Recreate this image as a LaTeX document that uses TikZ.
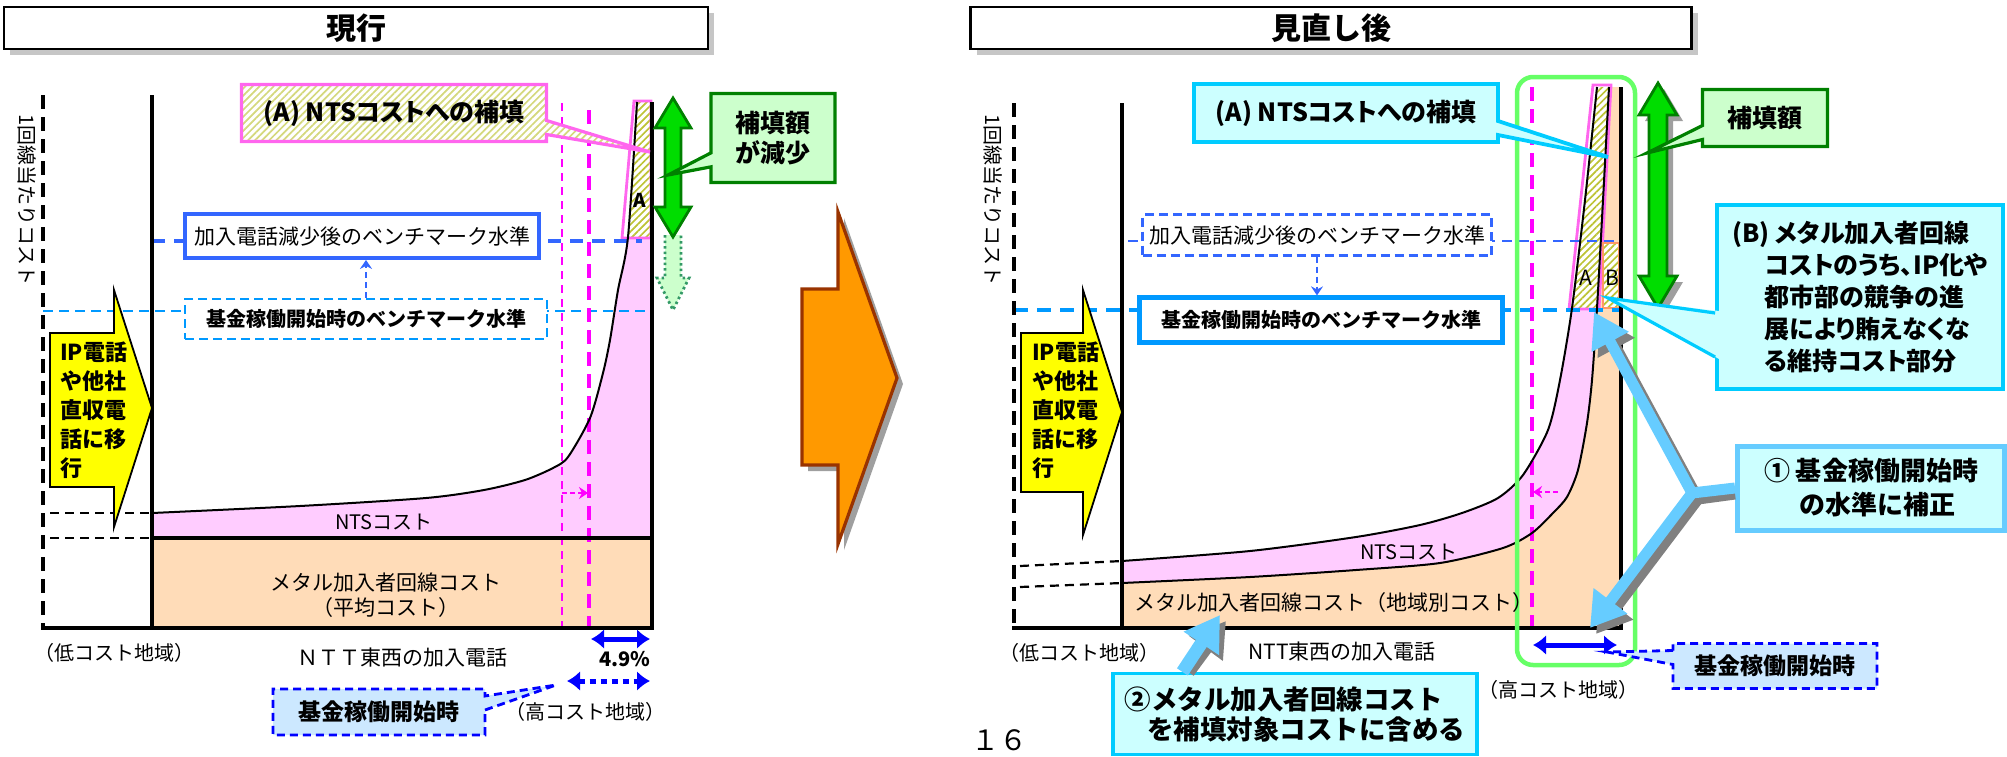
\documentclass[tikz,border=0pt]{standalone}
\usepackage{fontspec}
\setmainfont{Noto Sans CJK JP}
\newfontfamily\pfont{Noto Sans CJK JP}[RawFeature=+palt]
\usepackage{tikz}
\usetikzlibrary{arrows.meta,positioning,calc,shapes.callouts,patterns.meta,shadows}

\newcommand{\jfont}[2]{\fontsize{#1}{#2}\selectfont}

\definecolor{ntspink}{HTML}{FFCCFF}
\definecolor{metalbg}{HTML}{FFDCB8}
\definecolor{magline}{HTML}{FF00FF}
\definecolor{pinkbd}{HTML}{FF66EE}
\definecolor{bluelvl}{HTML}{3366FF}
\definecolor{skylvl}{HTML}{0099FF}
\definecolor{cyanbd}{HTML}{00CCFF}
\definecolor{cyanbg}{HTML}{CCFFFF}
\definecolor{grnbd}{HTML}{008000}
\definecolor{grnbg}{HTML}{CCFFCC}
\definecolor{grnarr}{HTML}{00DD00}
\definecolor{grnframe}{HTML}{66FF66}
\definecolor{hatch}{HTML}{BDC335}
\definecolor{orgfill}{HTML}{FF9900}
\definecolor{orgbd}{HTML}{993300}
\definecolor{arrblue}{HTML}{66CCFF}
\definecolor{paleblue}{HTML}{CCE8FF}
\definecolor{ipyellow}{HTML}{FFFF00}
\definecolor{bboxbd}{HTML}{FF9966}
\definecolor{dotgrn}{HTML}{339966}

\begin{document}
\begin{tikzpicture}[x=1pt,y=-1pt,>=latex,
    titlebar/.style={draw,line width=2.8pt,fill=white,minimum height=42pt,
      general shadow={fill=gray!45,shadow xshift=6pt,shadow yshift=-6pt},
      font=\jfont{30pt}{30pt}\bfseries},
    lvlbox/.style={fill=white,inner sep=0pt,font=\jfont{21pt}{21pt}},
    callbox/.style={rectangle callout,callout pointer width=14pt,inner sep=0pt,
      font=\pfont\jfont{25pt}{25pt}\bfseries},
    hatched/.style={preaction={fill=white},
      pattern={Lines[angle=45,distance=5pt,line width=1.7pt]},pattern color=hatch},
    yaxis/.style={line width=4.5pt,dash pattern=on 14pt off 8pt},
    guide/.style={line width=2.2pt,dash pattern=on 9pt off 6pt},
    costline/.style={line width=2pt,smooth,tension=0.45},
    ipshape/.style={fill=ipyellow,draw,line width=1.8pt,line join=miter},
    ipnote/.style={inner sep=0pt,align=left,font=\jfont{22pt}{29pt}\bfseries},
    txt/.style={inner sep=0pt,font=\jfont{20pt}{24pt}},
    fatgreen/.style={fill=grnarr,draw=grnbd,line width=2.8pt,line join=miter},
    fatblue/.style={draw=arrblue,line width=11pt,-{Triangle[length=34pt,width=40pt]}},
    fatshade/.style={draw=gray,line width=11pt,-{Triangle[length=34pt,width=40pt]}},
    zonearrow/.style={blue,line width=5pt,{Latex[length=13pt,width=20pt]}-{Latex[length=13pt,width=20pt]}},
    smallarrow/.style={-{Stealth[length=9pt,width=12pt,inset=3pt]}},
  ]
  \useasboundingbox (0,0) rectangle (2007,756);
  % title bars
  \node[titlebar,minimum width=704pt] (curT) at (356,28) {現行};
  \node[titlebar,minimum width=721pt] (newT) at (1331,28) {見直し後};

  % ---------- current (left) ----------
  % cost areas
  \fill[metalbg] (152,538) rectangle (652,628);
  \fill[ntspink] plot[smooth,tension=0.45] coordinates {(152,513) (300,506) (426,498) (484,490) (525,480) (553,468) (568,457) (590,418) (603,373) (610,340) (618,290) (628,237)} -- (652,237) -- (652,538) -- (152,538) -- cycle;
  \path[hatched] (628,237) -- (637,102) -- (651,102) -- (651,237) -- cycle;
  \draw[pinkbd,line width=2.8pt] (622,238) -- (634,101) -- (651,101) -- (651,238) -- cycle;
  \node[inner sep=0pt,font=\jfont{19pt}{19pt}\bfseries] (aL) at (640,200) {A};
  % benchmark levels
  \draw[bluelvl,line width=3.8pt,dash pattern=on 13pt off 9pt] (152,241) -- (642,241);
  \draw[skylvl,line width=2.8pt,dash pattern=on 10pt off 6pt] (43,311) -- (652,311);
  % high-cost borders
  \draw[magline,line width=2pt,dash pattern=on 8pt off 6pt] (562,103) -- (562,628);
  \draw[magline,line width=3.4pt,dash pattern=on 14pt off 8pt] (589,110) -- (589,628);
  \draw[magline,line width=1.8pt,dash pattern=on 5pt off 3pt,smallarrow] (562,493) -- (588,493);
  % curve and axes
  \draw[costline] plot coordinates {(152,513) (300,506) (426,498) (484,490) (525,480) (553,468) (568,457) (590,418) (603,373) (610,340) (618,290) (628,237) (637,102)};
  \draw[line width=3.5pt] (152,538) -- (652,538);
  \draw[line width=3.5pt] (152,95) -- (152,628);
  \draw[line width=4pt] (652,102) -- (652,630);
  \draw[yaxis] (43,95) -- (43,628);
  \draw[line width=4.5pt] (41,628) -- (654,628);
  \draw[guide] (50,513) -- (152,513);
  \draw[guide] (50,538) -- (152,538);
  \node[txt,rotate=-90] (yL) at (27,200) {1回線当たりコスト};
  % benchmark boxes
  \node[lvlbox,draw=bluelvl,line width=3.8pt,minimum width=354pt,minimum height=44pt] (afterL) at (362,236) {加入電話減少後のベンチマーク水準};
  \node[lvlbox,draw=skylvl,line width=2.8pt,dash pattern=on 9pt off 5pt,minimum width=362pt,minimum height=40pt,font=\jfont{20pt}{20pt}\bfseries] (startL) at (366,319) {基金稼働開始時のベンチマーク水準};
  \draw[bluelvl,line width=1.8pt,dash pattern=on 6pt off 4pt,smallarrow] (startL.north) -- (startL.north |- afterL.south);
  % compensation amount
  \draw[dotgrn,fill=grnbg,line width=2.8pt,dash pattern=on 2.5pt off 3pt] (665,235) -- (665,278) -- (657,278) -- (673,310) -- (689,278) -- (681,278) -- (681,235);
  \draw[fatgreen] (673,98) -- (691,128) -- (681,128) -- (681,207) -- (691,207) -- (673,237) -- (655,207) -- (665,207) -- (665,128) -- (655,128) -- cycle;
  \node[callbox,callout absolute pointer={(650,152)},draw=pinkbd,line width=3.2pt,hatched,pattern color=hatch!65,minimum width=305pt,minimum height=57pt] (ntsAL) at (394,113) {(A) NTSコストへの補填};
  \node[callbox,callout absolute pointer={(668,175)},fill=grnbg,draw=grnbd,line width=3.2pt,align=center,font=\jfont{25pt}{30pt}\bfseries,minimum width=124pt,minimum height=89pt] (fillL) at (773,138) {補填額\\が減少};
  % shift to IP
  \draw[ipshape] (50,333) -- (114,333) -- (114,290) -- (152,408) -- (114,527) -- (114,487) -- (50,487) -- cycle;
  \node[ipnote,anchor=west] (ipL) at (60,410) {IP電話\\や他社\\直収電\\話に移\\行};
  % labels
  \node[txt] (ntsLblL) at (384,522) {NTSコスト};
  \node[txt,align=center,font=\jfont{21pt}{25pt}] (metalL) at (386,595) {メタル加入者回線コスト\\（平均コスト）};
  \node[txt] (lowL) at (114,653) {（低コスト地域）};
  \node[txt,font=\jfont{21pt}{21pt}] (nttL) at (402,658) {ＮＴＴ東西の加入電話};
  \draw[zonearrow] (591,639) -- (650,639);
  \node[txt,font=\jfont{20pt}{20pt}\bfseries] (pctL) at (625,659) {4.9\%};
  \draw[zonearrow,dash pattern=on 6pt off 5pt] (567,681) -- (650,681);
  \node[txt] (highL) at (585,712) {（高コスト地域）};
  \node[callbox,callout absolute pointer={(556,685)},fill=paleblue,draw=blue,line width=2.8pt,dash pattern=on 8pt off 5pt,font=\jfont{23pt}{23pt}\bfseries,minimum width=212pt,minimum height=46pt] (startTL) at (379,712) {基金稼働開始時};

  % transition arrow
  \fill[gray!75,shift={(6,6)}] (802,289) -- (838,289) -- (838,212) -- (897,378) -- (838,544) -- (838,465) -- (802,465) -- cycle;
  \draw[fill=orgfill,draw=orgbd,line width=3.2pt] (802,289) -- (838,289) -- (838,212) -- (897,378) -- (838,544) -- (838,465) -- (802,465) -- cycle;

  % ---------- revised (right) ----------
  % cost areas
  \fill[metalbg] plot[smooth,tension=0.45] coordinates {(1122,583) (1250,577) (1356,570) (1440,563) (1503,548) (1532,533) (1553,513) (1567,497) (1578,470) (1587,423) (1592,380) (1597,308) (1603,200) (1609,87)} -- (1621,87) -- (1621,628) -- (1122,628) -- cycle;
  \fill[ntspink] plot[smooth,tension=0.45] coordinates {(1122,561) (1250,551) (1356,537) (1420,525) (1462,513) (1498,498) (1523,475) (1548,430) (1560,380) (1572,308) (1585,200) (1597,87)} -- plot[smooth,tension=0.45] coordinates {(1609,87) (1603,200) (1597,308) (1592,380) (1587,423) (1578,470) (1567,497) (1553,513) (1532,533) (1503,548) (1440,563) (1356,570) (1250,577) (1122,583)} -- cycle;
  \path[hatched] (1572,308) -- (1585,200) -- (1597,87) -- (1609,87) -- (1603,200) -- (1597,308) -- cycle;
  \draw[pinkbd,line width=2.8pt] (1569,309) -- (1593,85) -- (1611,85) -- (1599,309) -- cycle;
  \draw[bboxbd,line width=2.8pt,hatched] (1603,243) rectangle (1619,308);
  % benchmark levels
  \draw[bluelvl,line width=2.3pt,dash pattern=on 10pt off 7pt] (1128,241) -- (1620,241);
  \draw[skylvl,line width=4.2pt,dash pattern=on 14pt off 9pt] (1014,310) -- (1620,310);
  % high-cost border
  \draw[magline,line width=3.4pt,dash pattern=on 14pt off 8pt] (1532,87) -- (1532,628);
  \draw[magline,line width=1.8pt,dash pattern=on 5pt off 3pt,smallarrow] (1558,492) -- (1533,492);
  % curves and axes
  \draw[costline] plot coordinates {(1122,561) (1250,551) (1356,537) (1420,525) (1462,513) (1498,498) (1523,475) (1548,430) (1560,380) (1572,308) (1585,200) (1597,87)};
  \draw[costline] plot coordinates {(1122,583) (1250,577) (1356,570) (1440,563) (1503,548) (1532,533) (1553,513) (1567,497) (1578,470) (1587,423) (1592,380) (1597,308) (1603,200) (1609,87)};
  \node[inner sep=0pt,font=\jfont{21pt}{21pt}] (aR) at (1586,278) {A};
  \node[inner sep=0pt,font=\jfont{21pt}{21pt}] (bR) at (1612,278) {B};
  \draw[line width=3.5pt] (1122,103) -- (1122,628);
  \draw[line width=4pt] (1621,87) -- (1621,630);
  \draw[yaxis] (1014,103) -- (1014,628);
  \draw[line width=4.5pt] (1012,628) -- (1623,628);
  \draw[guide] (1020,566) -- (1122,561);
  \draw[guide] (1020,587) -- (1122,583);
  \draw[grnframe,line width=4.5pt,rounded corners=16pt] (1517,77) rectangle (1635,665);
  \node[txt,rotate=-90] (yR) at (993,200) {1回線当たりコスト};
  % benchmark boxes
  \node[lvlbox,draw=bluelvl,line width=2.3pt,dash pattern=on 9pt off 5pt,minimum width=349pt,minimum height=41pt] (afterR) at (1317,235) {加入電話減少後のベンチマーク水準};
  \node[lvlbox,draw=skylvl,line width=4.2pt,minimum width=363pt,minimum height=45pt,font=\jfont{20pt}{20pt}\bfseries] (startR) at (1321,320) {基金稼働開始時のベンチマーク水準};
  \draw[bluelvl,line width=1.8pt,dash pattern=on 6pt off 4pt,smallarrow] (afterR.south) -- (afterR.south |- startR.north);
  % compensation amount
  \fill[gray!75,shift={(6,6)}] (1658,83) -- (1677,115) -- (1667,115) -- (1667,276) -- (1677,276) -- (1658,308) -- (1639,276) -- (1649,276) -- (1649,115) -- (1639,115) -- cycle;
  \draw[fatgreen] (1658,83) -- (1677,115) -- (1667,115) -- (1667,276) -- (1677,276) -- (1658,308) -- (1639,276) -- (1649,276) -- (1649,115) -- (1639,115) -- cycle;
  \node[callbox,callout absolute pointer={(1608,157)},fill=cyanbg,draw=cyanbd,line width=3.8pt,minimum width=304pt,minimum height=58pt] (ntsAR) at (1346,113) {(A) NTSコストへの補填};
  \node[callbox,callout absolute pointer={(1647,153)},fill=grnbg,draw=grnbd,line width=3.2pt,font=\jfont{25pt}{25pt}\bfseries,minimum width=125pt,minimum height=57pt] (fillR) at (1765,118) {補填額};
  % part B note
  \node[fill=cyanbg,draw=cyanbd,line width=3.8pt,align=left,inner sep=0pt,minimum width=286pt,minimum height=184pt,font=\pfont\jfont{25pt}{32pt}\bfseries] (partB) at (1860,297) {(B) メタル加入者回線\\\hspace*{1.3em}コストのうち、IP化や\\\hspace*{1.3em}都市部の競争の進\\\hspace*{1.3em}展により賄えなくな\\\hspace*{1.3em}る維持コスト部分};
  \coordinate (bTip) at (1608,298);
  \fill[cyanbg] ($(partB.west |- 0,311)+(4,0)$) -- (bTip) -- ($(partB.west |- 0,359)+(4,0)$) -- cycle;
  \draw[cyanbd,line width=3.2pt] (partB.west |- 0,313) -- (bTip) -- (partB.west |- 0,357);
  % correction note
  \node[fill=cyanbg,draw=arrblue,line width=5pt,align=left,inner sep=0pt,minimum width=267pt,minimum height=84pt,font=\jfont{26pt}{34pt}\bfseries] (corr) at (1871,488) {① 基金稼働開始時\\\hspace*{1.35em}の水準に補正};
  \coordinate (jn) at (1692,493);
  \coordinate (tipA) at (1594,312);
  \coordinate (tipB) at (1590,628);
  \draw[fatshade] ($(corr.west)+(0,6)$) -- ($(jn)+(6,6)$) -- ($(tipA)+(6,6)$);
  \draw[fatshade] ($(jn)+(6,6)$) -- ($(tipB)+(6,6)$);
  \draw[fatblue,line join=round] (corr.west) -- (jn) -- (tipA);
  \draw[fatblue] (jn) -- (tipB);
  % labels
  \node[txt] (ntsLblR) at (1409,552) {NTSコスト};
  \node[txt,font=\jfont{21pt}{21pt}] (metalR) at (1334,603) {メタル加入者回線コスト（地域別コスト）};
  \node[txt] (lowR) at (1079,653) {（低コスト地域）};
  \node[txt,font=\jfont{21pt}{21pt}] (nttR) at (1342,652) {NTT東西の加入電話};
  \draw[zonearrow] (1533,645) -- (1617,645);
  \node[txt] (highR) at (1558,690) {（高コスト地域）};
  \node[callbox,callout absolute pointer={(1607,652)},fill=paleblue,draw=blue,line width=2.8pt,dash pattern=on 8pt off 5pt,font=\jfont{23pt}{23pt}\bfseries,minimum width=204pt,minimum height=45pt] (startTR) at (1775,666) {基金稼働開始時};
  % shift to IP
  \draw[ipshape] (1021,333) -- (1083,333) -- (1083,290) -- (1122,412) -- (1083,535) -- (1083,492) -- (1021,492) -- cycle;
  \node[ipnote,anchor=west] (ipR) at (1032,410) {IP電話\\や他社\\直収電\\話に移\\行};
  % include metal cost
  \node[fill=cyanbg,draw=cyanbd,line width=3.2pt,align=left,inner sep=0pt,minimum width=364pt,minimum height=81pt,font=\jfont{26.5pt}{30pt}\bfseries] (incl) at (1295,714) {②メタル加入者回線コスト\\\hspace*{0.85em}を補填対象コストに含める};
  \coordinate (tipM) at (1220,615);
  \draw[fatshade,line width=13pt] ($(incl.north west)+(77,0)$) -- ($(tipM)+(6,6)$);
  \draw[fatblue,line width=13pt] ($(incl.north west)+(71,0)$) -- (tipM);
  % page number
  \node[txt,font=\jfont{28pt}{28pt}] (page) at (999,740) {１６};
\end{tikzpicture}
\end{document}
